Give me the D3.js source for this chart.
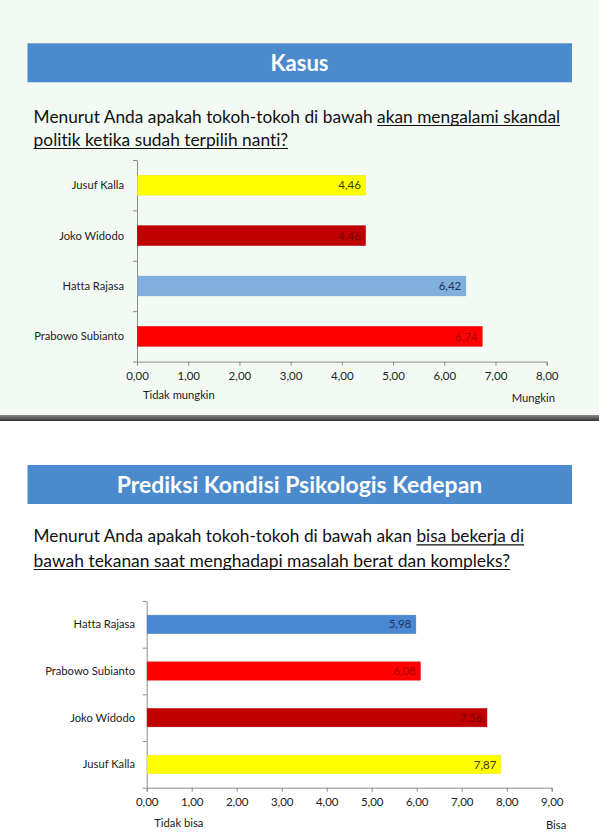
<!DOCTYPE html>
<html>
<head>
<meta charset="utf-8">
<title>Kasus / Prediksi Kondisi Psikologis Kedepan</title>
<script src="https://cdn.jsdelivr.net/npm/d3@7/dist/d3.min.js"></script>
<style>
  body { margin: 0; background: #fff; }
  svg { display: block; font-family: Lato, "Open Sans", sans-serif; font-variant-ligatures: none; }
</style>
</head>
<body>
<svg id="chart" width="599" height="837"></svg>

<script>
// --- data ---
var kasusNames  = ["Jusuf Kalla", "Joko Widodo", "Hatta Rajasa", "Prabowo Subianto"];
var kasusValues = [4.46, 4.46, 6.42, 6.74];
var kasusTicks  = [0, 1, 2, 3, 4, 5, 6, 7, 8];

var psikoNames  = ["Hatta Rajasa", "Prabowo Subianto", "Joko Widodo", "Jusuf Kalla"];
var psikoValues = [5.98, 6.08, 7.56, 7.87];
var psikoTicks  = [0, 1, 2, 3, 4, 5, 6, 7, 8, 9];

// per-candidate colours (fill, label colour)
var barFill  = { "Jusuf Kalla": "#ffff00", "Joko Widodo": "#c00000", "Hatta Rajasa": "#80aedd", "Prabowo Subianto": "#ff0000" };
var barFill2 = { "Jusuf Kalla": "#ffff00", "Joko Widodo": "#c00000", "Hatta Rajasa": "#4a88d2", "Prabowo Subianto": "#ff0000" };
var labFill  = { "Jusuf Kalla": "#3a3a10", "Joko Widodo": "#7a0000", "Hatta Rajasa": "#1c3560", "Prabowo Subianto": "#a80000" };

var fmt = d3.formatLocale({ decimal: ",", thousands: ".", grouping: [3], currency: ["", ""] }).format(".2f");

var svg = d3.select("#chart");

// top panel background + separator
svg.append("rect").attr("x", 0).attr("y", 0).attr("width", 599).attr("height", 416).attr("fill", "#f3faf4");
var grad = svg.append("defs").append("linearGradient").attr("id", "sep").attr("x1", 0).attr("x2", 0).attr("y1", 0).attr("y2", 1);
grad.append("stop").attr("offset", "0%").attr("stop-color", "#8a8a8a");
grad.append("stop").attr("offset", "100%").attr("stop-color", "#333");
svg.append("rect").attr("x", 0).attr("y", 415).attr("width", 599).attr("height", 6).attr("fill", "url(#sep)");

function titleBar(y, h, text, baseline, textW) {
  svg.append("rect").attr("x", 27.5).attr("y", y).attr("width", 544.5).attr("height", h).attr("fill", "#4a8acd");
  svg.append("text")
      .attr("x", 299.5).attr("y", baseline)
      .attr("text-anchor", "middle")
      .attr("fill", "#fff")
      .attr("font-weight", "bold")
      .attr("font-size", 22)
      .attr("textLength", textW).attr("lengthAdjust", "spacingAndGlyphs")
      .text(text);
}

// each line: text, index where the underline starts, baseline, width
function question(lines) {
  lines.forEach(function(l) {
    var t = svg.append("text")
        .attr("x", 33.6).attr("y", l.y)
        .attr("fill", "#111")
        .attr("font-size", 18)
        .attr("textLength", l.w).attr("lengthAdjust", "spacingAndGlyphs")
        .text(l.text);
    var node = t.node();
    var x1 = node.getStartPositionOfChar(l.from).x;
    var x2 = node.getEndPositionOfChar(l.text.length - 1).x;
    svg.append("line")
        .attr("x1", x1).attr("x2", x2)
        .attr("y1", l.y + 2.8).attr("y2", l.y + 2.8)
        .attr("stroke", "#111").attr("stroke-width", 1.2);
  });
}

function barChart(o) {
  var x = d3.scaleLinear().domain([0, o.max]).range([o.x0, o.x1]);
  var y = d3.scaleBand().domain(o.names).range([o.y0, o.y1]).paddingInner(0.61).paddingOuter(0.305);
  var yEdge = d3.scaleLinear().domain([0, o.names.length]).range([o.y0, o.y1]);

  var g = svg.append("g");

  // x axis
  var xa = g.append("g")
      .attr("transform", "translate(0," + o.y1 + ")")
      .call(d3.axisBottom(x).tickValues(o.ticks).tickFormat(fmt).tickSize(4).tickPadding(6));
  xa.select(".domain").attr("stroke", "#8c8c8c");
  xa.selectAll(".tick line").attr("stroke", "#8c8c8c");
  xa.selectAll(".tick text").attr("fill", "#222").attr("font-size", 11.5).attr("font-family", "Lato, sans-serif");

  // y axis with ticks between categories
  var ya = g.append("g")
      .attr("transform", "translate(" + o.x0 + ",0)")
      .call(d3.axisLeft(yEdge).tickValues(d3.range(o.names.length + 1)).tickFormat("").tickSize(4).tickSizeOuter(0));
  ya.select(".domain").attr("stroke", "#8c8c8c");
  ya.selectAll(".tick line").attr("stroke", "#8c8c8c");

  // category labels
  g.selectAll(".cat").data(o.names).enter().append("text")
      .attr("x", o.labelX)
      .attr("y", function(d) { return y(d) + y.bandwidth() / 2; })
      .attr("dy", "0.35em")
      .attr("text-anchor", "end")
      .attr("fill", "#222")
      .attr("font-size", 11.2)
      .text(function(d) { return d; });

  var rows = o.names.map(function(n, i) { return { name: n, value: o.values[i] }; });

  g.selectAll(".bar").data(rows).enter().append("rect")
      .attr("x", x(0) + 0.5)
      .attr("y", function(d) { return y(d.name); })
      .attr("width", function(d) { return x(d.value) - x(0) - 0.5; })
      .attr("height", y.bandwidth())
      .attr("fill", function(d) { return o.fills[d.name]; })
      .attr("stroke", function(d) { return d3.color(o.fills[d.name]).darker(0.25); })
      .attr("stroke-width", 0.6);

  g.selectAll(".val").data(rows).enter().append("text")
      .attr("x", function(d) { return x(d.value) - 4.5; })
      .attr("y", function(d) { return y(d.name) + y.bandwidth() / 2; })
      .attr("dy", "0.36em")
      .attr("text-anchor", "end")
      .attr("fill", function(d) { return labFill[d.name]; })
      .attr("font-size", 11.5)
      .text(function(d) { return fmt(d.value); });

  g.append("text").attr("x", o.leftTitle.x).attr("y", o.leftTitle.y)
      .attr("fill", "#222").attr("font-size", 11.2).text(o.leftTitle.text);
  g.append("text").attr("x", o.rightTitle.x).attr("y", o.rightTitle.y)
      .attr("fill", "#222").attr("font-size", 11.2).text(o.rightTitle.text);
}

// ---- panel 1: Kasus ----
titleBar(43.3, 39, "Kasus", 71, 58);
question([
  { y: 122.7, w: 526.5, text: "Menurut Anda apakah tokoh-tokoh di bawah akan mengalami skandal", from: 41 },
  { y: 145.7, w: 254.5, text: "politik ketika sudah terpilih nanti?", from: 0 }
]);
barChart({
  names: kasusNames, values: kasusValues, ticks: kasusTicks, max: 8, fills: barFill,
  x0: 137, x1: 546.7, y0: 160, y1: 361.6, labelX: 124,
  leftTitle:  { x: 143, y: 399, text: "Tidak mungkin" },
  rightTitle: { x: 511.7, y: 402, text: "Mungkin" }
});

// ---- panel 2: Prediksi Kondisi Psikologis Kedepan ----
titleBar(465, 39, "Prediksi Kondisi Psikologis Kedepan", 492.7, 365.5);
question([
  { y: 542, w: 490.5, text: "Menurut Anda apakah tokoh-tokoh di bawah akan bisa bekerja di", from: 46 },
  { y: 566.7, w: 476.5, text: "bawah tekanan saat menghadapi masalah berat dan kompleks?", from: 0 }
]);
barChart({
  names: psikoNames, values: psikoValues, ticks: psikoTicks, max: 9, fills: barFill2,
  x0: 146.7, x1: 551.7, y0: 601, y1: 787.7, labelX: 135,
  leftTitle:  { x: 154.3, y: 826.7, text: "Tidak bisa" },
  rightTitle: { x: 546, y: 829, text: "Bisa" }
});
</script>
</body>
</html>
